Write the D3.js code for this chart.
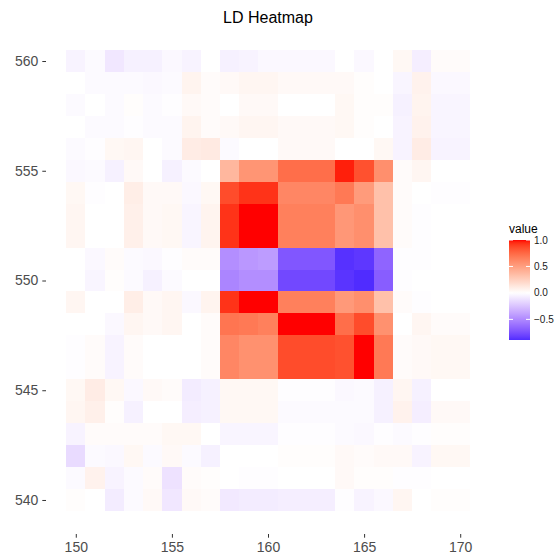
<!doctype html>
<html>
<head>
<meta charset="utf-8">
<title>LD Heatmap</title>
<style>
body { margin: 0; background: #fff; font-family: "Liberation Sans", Arial, sans-serif; }
.tick text { fill: #4d4d4d; font-size: 14px; }
.tick line { stroke: #333; }
</style>
</head>
<body>
<div id="root"></div>
<script src="https://d3js.org/d3.v7.min.js"></script>
<script>

// positions along the x axis (columns) and y axis (rows, top to bottom)
var xPos = [150, 151, 152, 153, 154, 155, 156, 157, 158, 159, 160, 161, 162, 163, 164, 165, 166, 167, 168, 169, 170];
var yPos = [560, 559, 558, 557, 556, 555, 554, 553, 552, 551, 550, 549, 548, 547, 546, 545, 544, 543, 542, 541, 540];

// LD values, one row per y position (same order as yPos), columns follow xPos
var ld = [
  [-0.05, -0.02, -0.10, -0.06, -0.06, -0.03, -0.05, 0.00, -0.06, -0.05, -0.03, -0.03, -0.03, -0.03, 0.00, -0.03, 0.00, 0.04, -0.07, 0.02, 0.02],
  [0.00, -0.02, -0.02, -0.02, -0.03, -0.02, 0.06, 0.02, 0.03, 0.05, 0.05, 0.03, 0.03, 0.03, 0.03, 0.01, 0.00, -0.04, 0.07, -0.03, -0.03],
  [-0.02, 0.00, -0.02, 0.01, -0.02, -0.01, 0.03, 0.02, 0.00, 0.03, 0.03, 0.00, 0.00, 0.00, 0.04, 0.01, 0.01, -0.06, 0.06, -0.04, -0.04],
  [0.00, -0.02, -0.02, -0.01, -0.02, -0.02, 0.06, 0.02, 0.03, 0.05, 0.05, 0.03, 0.03, 0.03, 0.04, 0.01, 0.00, -0.05, 0.07, -0.04, -0.04],
  [-0.02, -0.01, 0.04, 0.05, 0.00, -0.02, 0.10, 0.11, -0.02, 0.00, 0.00, 0.03, 0.03, 0.03, 0.00, 0.00, 0.04, -0.05, 0.10, -0.05, -0.05],
  [-0.03, -0.02, -0.06, 0.03, 0.00, -0.06, -0.02, 0.00, 0.38, 0.55, 0.55, 0.73, 0.73, 0.73, 0.97, 0.84, 0.58, 0.02, 0.05, 0.00, 0.00],
  [0.04, -0.01, 0.00, 0.09, 0.03, 0.03, -0.03, 0.04, 0.86, 0.93, 0.93, 0.62, 0.62, 0.62, 0.68, 0.52, 0.33, 0.02, 0.00, -0.01, -0.01],
  [0.05, 0.00, 0.00, 0.08, 0.03, 0.04, -0.04, 0.06, 0.93, 1.00, 1.00, 0.65, 0.65, 0.65, 0.54, 0.58, 0.33, 0.02, -0.01, 0.00, 0.00],
  [0.05, 0.00, 0.00, 0.08, 0.03, 0.04, -0.04, 0.06, 0.93, 1.00, 1.00, 0.65, 0.65, 0.65, 0.54, 0.58, 0.33, 0.02, -0.01, 0.00, 0.00],
  [0.00, -0.03, 0.02, -0.02, -0.03, -0.01, 0.02, 0.02, -0.48, -0.44, -0.42, -0.72, -0.72, -0.72, -0.87, -0.85, -0.66, -0.01, -0.01, 0.00, 0.00],
  [0.00, -0.04, 0.01, -0.02, -0.06, -0.02, 0.00, 0.00, -0.52, -0.48, -0.48, -0.78, -0.78, -0.78, -0.86, -0.89, -0.69, -0.01, 0.00, 0.00, 0.00],
  [0.05, 0.00, 0.00, 0.09, 0.03, 0.05, -0.03, 0.06, 0.93, 1.00, 1.00, 0.65, 0.65, 0.65, 0.53, 0.58, 0.33, 0.02, -0.01, 0.00, 0.00],
  [0.00, 0.00, -0.03, 0.05, 0.03, 0.05, 0.00, 0.02, 0.70, 0.68, 0.65, 1.00, 1.00, 1.00, 0.73, 0.86, 0.57, 0.00, 0.05, 0.02, 0.02],
  [-0.01, 0.02, -0.05, 0.02, 0.00, 0.00, 0.00, 0.02, 0.62, 0.57, 0.57, 0.86, 0.86, 0.86, 0.84, 1.00, 0.68, 0.02, 0.03, 0.04, 0.04],
  [-0.01, 0.02, -0.05, 0.02, 0.00, 0.00, 0.00, 0.02, 0.62, 0.57, 0.57, 0.86, 0.86, 0.86, 0.84, 1.00, 0.68, 0.02, 0.03, 0.04, 0.04],
  [0.04, 0.10, 0.04, -0.03, 0.03, 0.02, -0.08, -0.06, 0.04, 0.04, 0.04, -0.01, -0.01, -0.01, -0.03, -0.02, -0.06, 0.05, -0.06, 0.00, 0.00],
  [0.05, 0.08, 0.01, -0.06, 0.00, 0.00, -0.07, -0.06, 0.04, 0.04, 0.04, -0.02, -0.02, -0.02, -0.02, -0.02, -0.06, 0.07, -0.07, 0.03, 0.03],
  [-0.05, 0.02, 0.02, 0.02, 0.02, 0.04, 0.04, 0.00, -0.04, -0.04, -0.04, -0.01, -0.01, -0.01, -0.02, -0.03, -0.01, -0.02, -0.01, 0.01, 0.01],
  [-0.15, -0.02, -0.03, 0.04, -0.02, 0.03, -0.02, -0.06, 0.00, 0.00, 0.00, 0.01, 0.01, 0.01, 0.03, 0.02, 0.03, 0.03, -0.05, 0.04, 0.04],
  [-0.02, 0.07, -0.05, -0.02, 0.02, -0.12, 0.02, 0.01, 0.00, -0.01, -0.01, 0.00, 0.00, 0.00, 0.03, 0.01, 0.01, -0.01, -0.01, 0.00, 0.00],
  [0.01, 0.00, -0.08, -0.02, 0.03, -0.10, 0.03, 0.02, -0.09, -0.08, -0.08, -0.07, -0.07, -0.07, -0.01, -0.05, -0.03, 0.05, 0.00, 0.01, 0.01]
];

var xTicks = [150, 155, 160, 165, 170];
var yTicks = [540, 545, 550, 555, 560];
var legendTicks = [1.0, 0.5, 0.0, -0.5];

var width = 555,
    height = 556;

var cells = [];
ld.forEach(function(row, i) {
  row.forEach(function(v, j) {
    cells.push({x: xPos[j], y: yPos[i], value: v});
  });
});

var vmin = d3.min(cells, function(d) { return d.value; }),
    vmax = d3.max(cells, function(d) { return d.value; }),
    vabs = Math.max(Math.abs(vmin), Math.abs(vmax));

// blue - white - red, midpoint 0, interpolated in Lab like ggplot's gradient2
var toRed = d3.interpolateLab("#ffffff", "#ff0000"),
    toBlue = d3.interpolateLab("#ffffff", "#0000ff");
var color = function(v) {
  return v >= 0 ? toRed(v / vabs) : toBlue(-v / vabs);
};

var x = d3.scaleLinear()
    .domain([d3.min(xPos) - 0.5 - 1.05, d3.max(xPos) + 0.5 + 1.05])
    .range([46, 490]);

var y = d3.scaleLinear()
    .domain([d3.min(yPos) - 0.5 - 1.05, d3.max(yPos) + 0.5 + 1.05])
    .range([534, 27]);

var svg = d3.select("#root").append("svg")
    .attr("width", width)
    .attr("height", height);

svg.append("text")
    .attr("x", (46 + 490) / 2)
    .attr("y", 23)
    .attr("text-anchor", "middle")
    .style("font-size", "16px")
    .style("fill", "#000")
    .text("LD Heatmap");

svg.append("g")
    .selectAll("rect")
    .data(cells)
    .enter().append("rect")
    .attr("x", function(d) { return x(d.x - 0.5); })
    .attr("y", function(d) { return y(d.y + 0.5); })
    .attr("width", function(d) { return x(d.x + 0.5) - x(d.x - 0.5); })
    .attr("height", function(d) { return y(d.y - 0.5) - y(d.y + 0.5); })
    .attr("shape-rendering", "crispEdges")
    .style("fill", function(d) { return color(d.value); });

var xAxis = svg.append("g")
    .attr("transform", "translate(0,534)")
    .call(d3.axisBottom(x).tickValues(xTicks).tickSize(3.7).tickPadding(4));
xAxis.select(".domain").remove();

var yAxis = svg.append("g")
    .attr("transform", "translate(46,0)")
    .call(d3.axisLeft(y).tickValues(yTicks).tickSize(3.7).tickPadding(4));
yAxis.select(".domain").remove();

// colour bar legend
var lx = 509, lw = 21;
var ly = d3.scaleLinear().domain([vmin, vmax]).range([340, 240]);

var grad = svg.append("defs").append("linearGradient")
    .attr("id", "lgrad")
    .attr("x1", 0).attr("y1", 1).attr("x2", 0).attr("y2", 0);
d3.range(0, 1.0001, 0.02).forEach(function(t) {
  grad.append("stop")
    .attr("offset", t)
    .attr("stop-color", color(vmin + t * (vmax - vmin)));
});

svg.append("text")
    .attr("x", lx)
    .attr("y", 233)
    .style("font-size", "12px")
    .style("fill", "#000")
    .text("value");

svg.append("rect")
    .attr("x", lx)
    .attr("y", ly(vmax))
    .attr("width", lw)
    .attr("height", ly(vmin) - ly(vmax))
    .style("fill", "url(#lgrad)");

var lt = svg.append("g").selectAll("g")
    .data(legendTicks)
    .enter().append("g");
lt.append("line")
    .attr("x1", lx).attr("x2", lx + 4)
    .attr("y1", function(d) { return ly(d); })
    .attr("y2", function(d) { return ly(d); })
    .style("stroke", "#fff");
lt.append("line")
    .attr("x1", lx + lw - 4).attr("x2", lx + lw)
    .attr("y1", function(d) { return ly(d); })
    .attr("y2", function(d) { return ly(d); })
    .style("stroke", "#fff");
lt.append("text")
    .attr("x", lx + lw + 4)
    .attr("y", function(d) { return ly(d); })
    .attr("dy", "0.35em")
    .style("font-size", "10px")
    .style("fill", "#1a1a1a")
    .text(function(d) { return d3.format(".1f")(d).replace("-", "\u2212"); });

</script>
</body>
</html>
